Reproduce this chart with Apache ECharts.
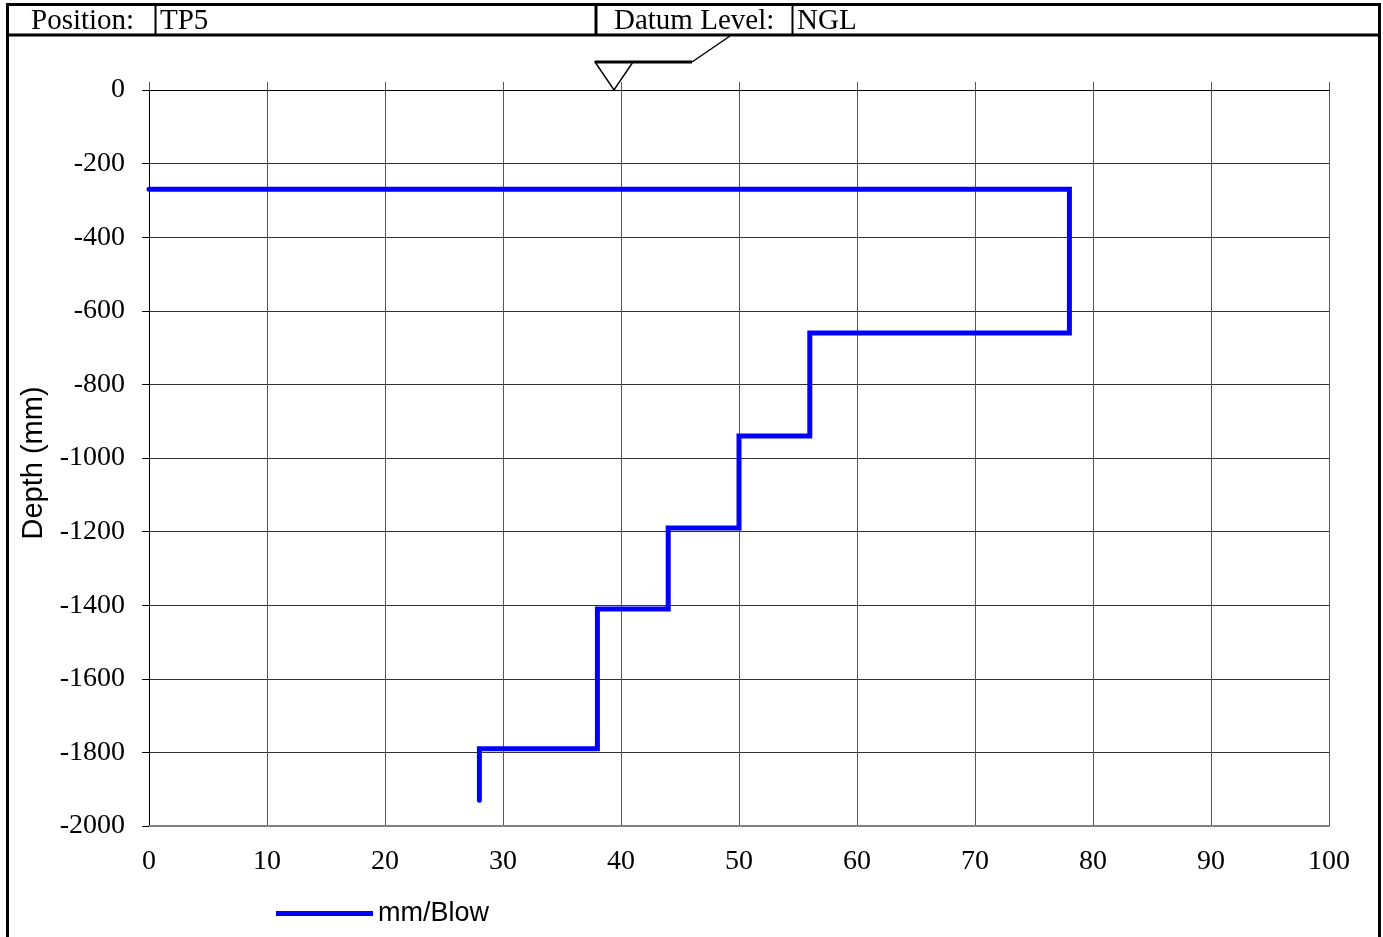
<!DOCTYPE html>
<html>
<head>
<meta charset="utf-8">
<script src="https://cdn.jsdelivr.net/npm/echarts@6/dist/echarts.min.js"></script>
<style>
html,body{margin:0;padding:0;background:#fff;}
#chart{width:1383px;height:937px;}
</style>
</head>
<body>
<div id="chart"></div>
<script>
// Data
const seriesName = 'mm/Blow';
const startDepth = -270;                                   // top of the profile (mm)
const layerBottoms = [-660, -940, -1190, -1410, -1790, -1930]; // depth at bottom of each layer (mm)
const layerRates = [78, 56, 50, 44, 38, 28];               // mm/Blow for each layer
const xTicks = [0, 10, 20, 30, 40, 50, 60, 70, 80, 90, 100];
const yTicks = [0, -200, -400, -600, -800, -1000, -1200, -1400, -1600, -1800, -2000];
const positionLabel = 'Position:';
const positionValue = 'TP5';
const datumLabel = 'Datum Level:';
const datumValue = 'NGL';
const yAxisTitle = 'Depth (mm)';

// Build step profile points
const points = [[0, startDepth]];
let layerTop = startDepth;
for (let i = 0; i < layerRates.length; i++) {
  points.push([layerRates[i], layerTop]);
  points.push([layerRates[i], layerBottoms[i]]);
  layerTop = layerBottoms[i];
}

const serif = "'Liberation Serif','Times New Roman',serif";
const sans = "'Liberation Sans',Arial,sans-serif";

const chart = echarts.init(document.getElementById('chart'), null, {renderer: 'canvas'});
chart.setOption({
  backgroundColor: '#ffffff',
  animation: false,
  grid: {left: 149, right: 54, top: 90, bottom: 111, containLabel: false},
  xAxis: [{
    type: 'value', position: 'bottom', min: xTicks[0], max: xTicks[xTicks.length - 1], interval: 10,
    axisLine: {show: true, onZero: false, lineStyle: {color: '#808080', width: 2}},
    axisTick: {show: false},
    axisLabel: {color: '#000', fontFamily: serif, fontSize: 28, margin: 22, formatter: v => String(v)},
    splitLine: {show: true, lineStyle: {color: '#555', width: 1}}
  }, {
    type: 'value', position: 'top', min: xTicks[0], max: xTicks[xTicks.length - 1], interval: 10,
    axisLine: {show: true, onZero: false, lineStyle: {color: '#000', width: 1}},
    axisTick: {show: true, inside: false, length: 8, lineStyle: {color: '#555', width: 1}},
    axisLabel: {show: false},
    splitLine: {show: false}
  }],
  yAxis: {
    type: 'value', min: yTicks[yTicks.length - 1], max: yTicks[0], interval: 200,
    name: yAxisTitle, nameLocation: 'middle', nameRotate: 90, nameGap: 95,
    nameTextStyle: {color: '#000', fontFamily: sans, fontSize: 29, padding: [0, 10, 0, 0]},
    axisLine: {show: true, onZero: false, lineStyle: {color: '#000', width: 1}},
    axisTick: {show: true, inside: false, length: 7, lineStyle: {color: '#000', width: 1}},
    axisLabel: {color: '#000', fontFamily: serif, fontSize: 28, margin: 24, padding: [6, 0, 0, 0], formatter: v => String(v)},
    splitLine: {show: true, lineStyle: {color: '#333', width: 1}}
  },
  legend: {
    show: true, left: 276, top: 900, padding: 0, itemWidth: 97, itemHeight: 5, itemGap: 10,
    icon: 'rect',
    textStyle: {color: '#000', fontFamily: sans, fontSize: 27},
    data: [seriesName]
  },
  series: [{
    name: seriesName, type: 'line', data: points, showSymbol: false, symbol: 'none',
    xAxisIndex: 0,
    lineStyle: {color: '#0000ff', width: 5, cap: 'round', join: 'miter'},
    itemStyle: {color: '#0000ff'},
    z: 5
  }],
  graphic: [
    // outer border & header
    {type: 'rect', shape: {x: 7.5, y: 4.5, width: 1372, height: 960}, style: {fill: 'none', stroke: '#000', lineWidth: 3}, z: 10},
    {type: 'line', shape: {x1: 7, y1: 35, x2: 1380, y2: 35}, style: {stroke: '#000', lineWidth: 3}, z: 10},
    {type: 'line', shape: {x1: 155.5, y1: 4, x2: 155.5, y2: 35}, style: {stroke: '#000', lineWidth: 2}, z: 10},
    {type: 'line', shape: {x1: 596, y1: 4, x2: 596, y2: 35}, style: {stroke: '#000', lineWidth: 3}, z: 10},
    {type: 'line', shape: {x1: 792.5, y1: 4, x2: 792.5, y2: 35}, style: {stroke: '#000', lineWidth: 2}, z: 10},
    {type: 'text', left: 31, top: 7, style: {text: positionLabel, font: '29px ' + serif, fill: '#000'}, z: 10},
    {type: 'text', left: 160, top: 7, style: {text: positionValue, font: '29px ' + serif, fill: '#000'}, z: 10},
    {type: 'text', left: 614, top: 7, style: {text: datumLabel, font: '29px ' + serif, fill: '#000'}, z: 10},
    {type: 'text', left: 797, top: 7, style: {text: datumValue, font: '29px ' + serif, fill: '#000'}, z: 10},
    // datum symbol
    {type: 'polygon', shape: {points: [[595, 62], [633, 62], [614, 90]]}, style: {fill: '#fff', stroke: '#000', lineWidth: 1.5}, z: 10},
    {type: 'line', shape: {x1: 595, y1: 62, x2: 692, y2: 62}, style: {stroke: '#000', lineWidth: 3}, z: 10},
    {type: 'line', shape: {x1: 692, y1: 62, x2: 730, y2: 36}, style: {stroke: '#000', lineWidth: 1.5}, z: 10}
  ]
});
</script>
</body>
</html>
